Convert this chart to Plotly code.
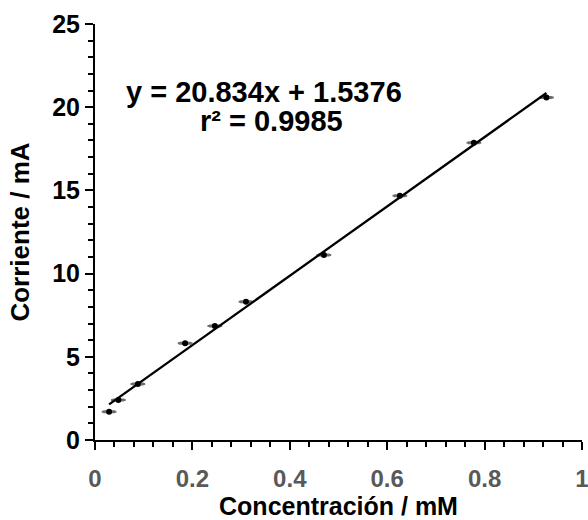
import plotly.graph_objects as go
import numpy as np

# Data
conc = [0.029, 0.048, 0.088, 0.185, 0.246, 0.310, 0.470, 0.626, 0.778, 0.927]
current = [1.70, 2.40, 3.37, 5.81, 6.85, 8.31, 11.12, 14.68, 17.87, 20.59]
conc_err = [0.012, 0.012, 0.012, 0.012, 0.012, 0.012, 0.012, 0.012, 0.012, 0.012]
slope = 20.834
intercept = 1.5376
r2 = 0.9985

x_ticks = [0, 0.2, 0.4, 0.6, 0.8, 1]
x_ticklabels = ["0", "0.2", "0.4", "0.6", "0.8", "1"]
y_ticks = [0, 5, 10, 15, 20, 25]

FONT = "Liberation Sans, Arial, sans-serif"

fit_x = [min(conc), max(conc)]
fit_y = [slope * v + intercept for v in fit_x]

fig = go.Figure()
fig.add_trace(go.Scatter(
    x=conc, y=current, mode="markers",
    marker=dict(color="black", size=6),
    error_x=dict(type="data", array=conc_err, visible=True,
                 color="#6e6e6e", thickness=3, width=1),
    showlegend=False))
fig.add_trace(go.Scatter(
    x=fit_x, y=fit_y, mode="lines",
    line=dict(color="black", width=2.3), showlegend=False, hoverinfo="skip"))

fig.add_annotation(x=0.347, y=0.837, xref="paper", yref="paper",
                   xanchor="center", yanchor="middle",
                   text=f"y = {slope}x + {intercept}", showarrow=False,
                   font=dict(family=FONT, size=29, color="black", weight="bold"))
fig.add_annotation(x=0.363, y=0.768, xref="paper", yref="paper",
                   xanchor="center", yanchor="middle",
                   text=f"r² = {r2}", showarrow=False,
                   font=dict(family=FONT, size=29, color="black", weight="bold"))

fig.update_xaxes(
    range=[0, 1], tickvals=x_ticks, ticktext=x_ticklabels,
    showline=True, linecolor="black", linewidth=2, mirror=False,
    showgrid=False, zeroline=False,
    ticks="outside", ticklen=8, tickwidth=2, tickcolor="black",
    minor=dict(dtick=0.04, ticks="outside", ticklen=5, tickwidth=1.5, tickcolor="black"),
    tickfont=dict(family=FONT, size=24, color="#595959", weight="bold"),
    ticklabelstandoff=8, ticklabeloverflow="allow",
    title=dict(text="Concentración / mM", standoff=12,
               font=dict(family=FONT, size=25, color="black", weight="bold")))
fig.update_yaxes(
    range=[0, 25], tickvals=y_ticks,
    showline=True, linecolor="black", linewidth=2, mirror=False,
    showgrid=False, zeroline=False,
    ticks="outside", ticklen=8, tickwidth=2, tickcolor="black",
    minor=dict(dtick=1, ticks="outside", ticklen=5, tickwidth=1.5, tickcolor="black"),
    tickfont=dict(family=FONT, size=25, color="black", weight="bold"),
    ticklabelstandoff=0,
    title=dict(text="Corriente / mA", standoff=15,
               font=dict(family=FONT, size=26, color="black", weight="bold")))

fig.update_layout(
    width=588, height=520,
    margin=dict(l=95, r=6, t=24, b=80, autoexpand=False),
    plot_bgcolor="white", paper_bgcolor="white")

fig.write_html("out.html")
